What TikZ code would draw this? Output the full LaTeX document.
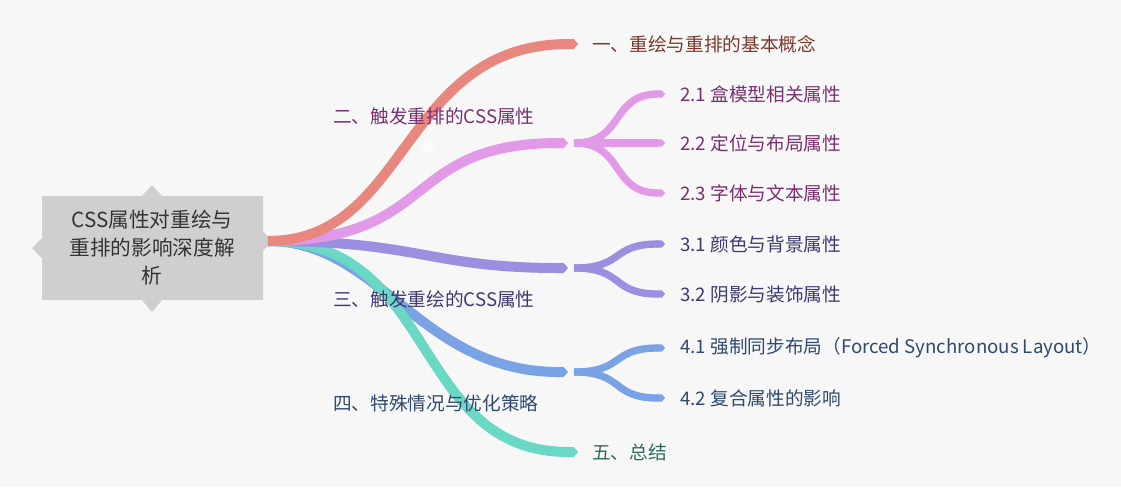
\documentclass[tikz,border=0pt]{standalone}
\usepackage{fontspec}
\setmainfont{Noto Sans CJK SC}
\usetikzlibrary{arrows.meta}
\definecolor{cred}{HTML}{E8877F}
\definecolor{cpink}{HTML}{E29AE8}
\definecolor{cpur}{HTML}{9B8FE0}
\definecolor{cblue}{HTML}{7AA3E5}
\definecolor{cteal}{HTML}{6AD8C4}
\definecolor{tred}{HTML}{7A3B2E}
\definecolor{tpink}{HTML}{7A3070}
\definecolor{tpur}{HTML}{3D3A70}
\definecolor{tblue}{HTML}{2F4A6E}
\definecolor{tteal}{HTML}{2D6B5E}
\begin{document}
\begin{tikzpicture}[x=0.75pt,y=-0.75pt,
  br/.style={line width=7.5pt,-{Triangle Cap[cap angle=100]}},
  fk/.style={line width=5.5pt,-{Triangle Cap[cap angle=100]}},
  lab/.style={anchor=west,inner sep=0pt,font=\fontsize{14}{16}\selectfont},
  ]
\fill[white!97!black] (0,0) rectangle (1121,487);
\useasboundingbox (0,0) rectangle (1121,487);
% root
\fill[gray!38] (152,185) -- (162,196) -- (263,196) -- (263,231) -- (272,241) -- (263,251) -- (263,300) -- (162,300) -- (152,312) -- (142,300) -- (42,300) -- (42,258) -- (32,248) -- (42,238) -- (42,196) -- (142,196) -- cycle;
\node[align=center,text=black!80,font=\fontsize{15.5}{21}\selectfont] (root) at (152,248) {CSS属性对重绘与\\重排的影响深度解\\析};
\coordinate (s) at (268,241);
\coordinate (e1) at (578,44);
\coordinate (e2) at (568,143);
\coordinate (e3) at (568,268);
\coordinate (e4) at (568,372);
\coordinate (e5) at (578,452);
\coordinate (f2) at (574,143);
\coordinate (f3) at (574,268);
\coordinate (f4) at (574,372);
\coordinate (c21) at (665,94);\coordinate (c22) at (665,143);\coordinate (c23) at (665,193);
\coordinate (c31) at (665,244);\coordinate (c32) at (665,294);
\coordinate (c41) at (665,348);\coordinate (c42) at (665,398);
\draw[br,cblue] (s) .. controls (380,241) and (420,372) .. (e4);
\draw[br,cteal] (s) .. controls (440,241) and (410,452) .. (e5);
\draw[br,cpur] (s) .. controls (420,241) and (430,268) .. (e3);
\draw[br,cpink] (s) .. controls (440,241) and (400,143) .. (e2);
\draw[br,cred] (s) .. controls (410,241) and (400,44) .. (e1);
\fill[white,opacity=0.5] (428,146) circle (6);
\draw[fk,cpink] (f2) -- (c22);
\draw[fk,cpink] (f2) .. controls (625,143) and (610,94) .. (c21);
\draw[fk,cpink] (f2) .. controls (625,143) and (610,193) .. (c23);
\draw[fk,cpur] (f3) .. controls (625,268) and (610,244) .. (c31);
\draw[fk,cpur] (f3) .. controls (625,268) and (610,294) .. (c32);
\draw[fk,cblue] (f4) .. controls (625,372) and (610,348) .. (c41);
\draw[fk,cblue] (f4) .. controls (625,372) and (610,398) .. (c42);
\node[lab,text=tred] (t1) at (592,44) {一、重绘与重排的基本概念};
\node[lab,text=tpink] (t2) at (333,116) {二、触发重排的CSS属性};
\node[lab,text=tpink] (t21) at (680,94) {2.1 盒模型相关属性};
\node[lab,text=tpink] (t22) at (680,143) {2.2 定位与布局属性};
\node[lab,text=tpink] (t23) at (680,193) {2.3 字体与文本属性};
\node[lab,text=tpur] (t3) at (333,299) {三、触发重绘的CSS属性};
\node[lab,text=tpur] (t31) at (680,244) {3.1 颜色与背景属性};
\node[lab,text=tpur] (t32) at (680,294) {3.2 阴影与装饰属性};
\node[lab,text=tblue] (t4) at (333,403) {四、特殊情况与优化策略};
\node[lab,text=tblue] (t41) at (680,348) {4.1 强制同步布局（Forced Synchronous Layout）};
\node[lab,text=tblue] (t42) at (680,398) {4.2 复合属性的影响};
\node[lab,text=tteal] (t5) at (592,452) {五、总结};
\end{tikzpicture}
\end{document}
